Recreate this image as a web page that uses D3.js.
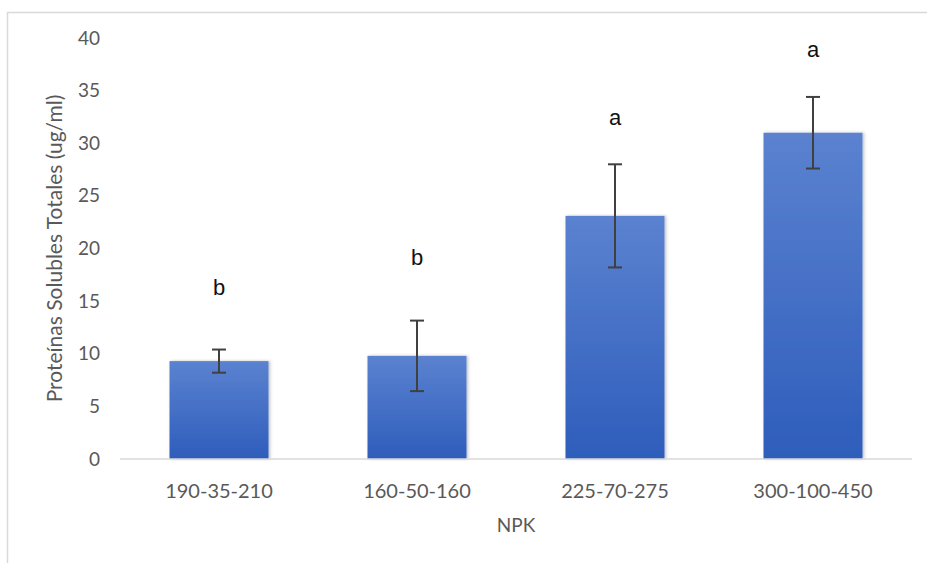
<!DOCTYPE html>
<html>
<head>
<meta charset="utf-8">
<script src="https://cdnjs.cloudflare.com/ajax/libs/d3/7.8.5/d3.min.js"></script>
<style>
  body { margin: 0; background: #fff; }
  text { font-family: Lato, "Open Sans", sans-serif; }
</style>
</head>
<body>
<script>
// data
var categories = ['190-35-210', '160-50-160', '225-70-275', '300-100-450'];
var means = [9.3, 9.8, 23.1, 31.0];
var errors = [1.1, 3.35, 4.9, 3.4];
var letters = ['b', 'b', 'a', 'a'];
var letterY = [15.6, 18.4, 31.7, 38.2];
var yTicks = [0, 5, 10, 15, 20, 25, 30, 35, 40];

var width = 927;
var height = 563;
var margins = { left: 120, right: 15, top: 38, bottom: 104 };

var svg = d3.select("body").append("svg")
            .attr("width", width)
            .attr("height", height);

// outer chart frame (only top and left visible)
svg.append("path")
    .attr("d", "M7.5,563 L7.5,12.5 L927,12.5")
    .attr("fill", "none")
    .attr("stroke", "#d9d9d9")
    .attr("stroke-width", 1.5);

var defs = svg.append("defs");
var grad = defs.append("linearGradient")
    .attr("id", "barGrad")
    .attr("x1", 0).attr("y1", 0).attr("x2", 0).attr("y2", 1);
grad.append("stop").attr("offset", "0%").attr("stop-color", "#5b82d0");
grad.append("stop").attr("offset", "100%").attr("stop-color", "#2e5dbb");

var shadow = defs.append("filter").attr("id", "shadow")
    .attr("x", "-10%").attr("y", "-10%").attr("width", "130%").attr("height", "120%");
shadow.append("feDropShadow")
    .attr("dx", 1.5).attr("dy", 0).attr("stdDeviation", 1.5)
    .attr("flood-color", "#000").attr("flood-opacity", 0.25);

var x = d3.scaleBand()
    .domain(categories)
    .range([margins.left, width - margins.right])
    .paddingInner(0.5)
    .paddingOuter(0.25);

var y = d3.scaleLinear()
    .domain([0, 40])
    .range([height - margins.bottom, margins.top]);

// y axis labels (no line)
var yAxis = svg.append("g")
    .attr("transform", "translate(100,0)")
    .call(d3.axisLeft(y).tickValues(yTicks).tickSize(0).tickPadding(0));
yAxis.select(".domain").remove();
yAxis.selectAll("text")
    .attr("fill", "#595959")
    .attr("font-size", "19px");

// bars
svg.selectAll(".bar")
    .data(categories)
    .enter()
    .append("rect")
    .attr("class", "bar")
    .attr("x", d => x(d))
    .attr("width", x.bandwidth())
    .attr("y", (d, i) => y(means[i]))
    .attr("height", (d, i) => y(0) - y(means[i]))
    .attr("fill", "url(#barGrad)")
    .attr("filter", "url(#shadow)");

// baseline
svg.append("line")
    .attr("x1", margins.left).attr("x2", width - margins.right)
    .attr("y1", y(0)).attr("y2", y(0))
    .attr("stroke", "#d9d9d9")
    .attr("stroke-width", 1.5);

// error bars
var err = svg.selectAll(".err")
    .data(categories)
    .enter()
    .append("g")
    .attr("class", "err")
    .attr("stroke", "#404040")
    .attr("stroke-width", 2);
err.append("line")
    .attr("x1", d => x(d) + x.bandwidth() / 2)
    .attr("x2", d => x(d) + x.bandwidth() / 2)
    .attr("y1", (d, i) => y(means[i] + errors[i]))
    .attr("y2", (d, i) => y(means[i] - errors[i]));
[1, -1].forEach(function(s) {
    err.append("line")
        .attr("x1", d => x(d) + x.bandwidth() / 2 - 7)
        .attr("x2", d => x(d) + x.bandwidth() / 2 + 7)
        .attr("y1", (d, i) => y(means[i] + s * errors[i]))
        .attr("y2", (d, i) => y(means[i] + s * errors[i]));
});

// significance letters
svg.selectAll(".letter")
    .data(categories)
    .enter()
    .append("text")
    .attr("class", "letter")
    .attr("x", d => x(d) + x.bandwidth() / 2)
    .attr("y", (d, i) => y(letterY[i]))
    .attr("text-anchor", "middle")
    .attr("font-size", "22px")
    .attr("fill", "#111")
    .style("font-family", "'Liberation Sans', Arial, sans-serif")
    .text((d, i) => letters[i]);

// x axis labels
svg.selectAll(".xlabel")
    .data(categories)
    .enter()
    .append("text")
    .attr("class", "xlabel")
    .attr("x", d => x(d) + x.bandwidth() / 2)
    .attr("y", 498)
    .attr("text-anchor", "middle")
    .attr("font-size", "20px")
    .attr("fill", "#595959")
    .text(d => d);

// axis titles
svg.append("text")
    .attr("x", (margins.left + width - margins.right) / 2)
    .attr("y", 532)
    .attr("text-anchor", "middle")
    .attr("font-size", "19px")
    .attr("fill", "#595959")
    .text("NPK");

svg.append("text")
    .attr("transform", "translate(62," + ((y(0) + y(40)) / 2) + ") rotate(-90)")
    .attr("text-anchor", "middle")
    .attr("font-size", "21px")
    .attr("fill", "#595959")
    .text("Proteínas Solubles Totales (ug/ml)");
</script>
</body>
</html>
